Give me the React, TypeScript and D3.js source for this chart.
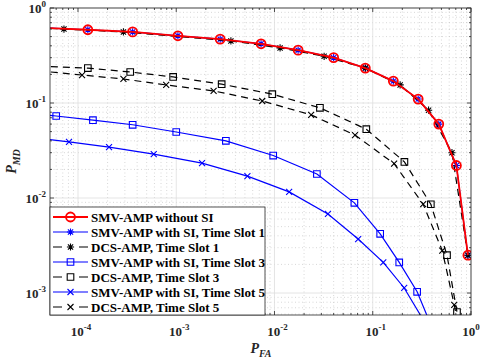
import React, { useEffect, useRef } from 'react';
import * as d3 from 'd3';

// P_FA / P_MD values
const noSiPfa = [4e-5, 1.26e-4, 3.6e-4, 1.04e-3, 2.8e-3, 7.3e-3, 0.0174, 0.04, 0.084, 0.162, 0.29, 0.47, 0.71, 0.93];
const noSiPmd = [0.62, 0.59, 0.56, 0.51, 0.47, 0.42, 0.36, 0.30, 0.233, 0.17, 0.11, 0.06, 0.022, 0.0025];

const si1Pfa = [4e-5, 1.26e-4, 3.6e-4, 1.04e-3, 2.8e-3, 7.3e-3, 0.0174, 0.04, 0.084, 0.162, 0.29, 0.47, 0.71, 0.93];
const si1Pmd = [0.62, 0.59, 0.56, 0.51, 0.47, 0.42, 0.36, 0.30, 0.233, 0.17, 0.11, 0.06, 0.022, 0.0025];

const dcs1Pfa = [3e-5, 7.2e-5, 2.9e-4, 3.6e-3, 0.0114, 0.032, 0.084, 0.19, 0.37, 0.64, 0.93];
const dcs1Pmd = [0.63, 0.60, 0.56, 0.45, 0.38, 0.31, 0.233, 0.155, 0.084, 0.030, 0.0025];

const si3Pfa = [4e-5, 6.0e-5, 1.42e-4, 3.6e-4, 1.0e-3, 3.2e-3, 9.7e-3, 0.027, 0.065, 0.119, 0.186, 0.283, 0.5];
const si3Pmd = [0.076, 0.073, 0.066, 0.059, 0.0495, 0.040, 0.028, 0.0179, 0.0089, 0.0042, 0.0021, 0.00103, 2.5e-4];

const dcs3Pfa = [4e-5, 1.26e-4, 3.4e-4, 9.3e-4, 2.9e-3, 9.5e-3, 0.029, 0.086, 0.21, 0.39, 0.57, 0.72];
const dcs3Pmd = [0.245, 0.233, 0.212, 0.188, 0.158, 0.124, 0.089, 0.053, 0.024, 0.0086, 0.0025, 6.3e-4];

const si5Pfa = [4e-5, 8.1e-5, 2.07e-4, 5.9e-4, 1.83e-3, 5.3e-3, 0.0141, 0.035, 0.071, 0.128, 0.209, 0.45];
const si5Pmd = [0.0425, 0.0389, 0.0344, 0.029, 0.0233, 0.017, 0.0116, 0.0068, 0.0037, 0.0021, 0.00113, 3e-4];

const dcs5Pfa = [4e-5, 1.1e-4, 2.9e-4, 7.9e-4, 2.4e-3, 7.5e-3, 0.0236, 0.066, 0.165, 0.326, 0.51, 0.675, 0.76];
const dcs5Pmd = [0.218, 0.197, 0.179, 0.155, 0.134, 0.105, 0.075, 0.046, 0.023, 0.0086, 0.0028, 7.5e-4, 4e-4];

const xTickExp = [-4, -3, -2, -1, 0];
const yTickExp = [-3, -2, -1, 0];

const legendLabels = [
  'SMV-AMP without SI',
  'SMV-AMP with SI, Time Slot 1',
  'DCS-AMP, Time Slot 1',
  'SMV-AMP with SI, Time Slot 3',
  'DCS-AMP, Time Slot 3',
  'SMV-AMP with SI, Time Slot 5',
  'DCS-AMP, Time Slot 5',
];

const FONT = '"Liberation Serif", "Times New Roman", serif';

const markerPath = (type, r) => {
  if (type === 'star') {
    const d = r * 0.72;
    return `M0,${-r}V${r}M${-r},0H${r}M${-d},${-d}L${d},${d}M${-d},${d}L${d},${-d}`;
  }
  if (type === 'x') return `M${-r},${-r}L${r},${r}M${-r},${r}L${r},${-r}`;
  if (type === 'square') return `M${-r},${-r}H${r}V${r}H${-r}Z`;
  return d3.symbol(d3.symbolCircle, Math.PI * r * r)();
};

export default function App() {
  const svgRef = useRef(null);
  const width = 480;
  const height = 360;

  useEffect(() => {
    const svg = d3.select(svgRef.current);
    svg.selectAll('*').remove();

    const left = 50, right = 471, top = 8, bottom = 315;
    const x = d3.scaleLog().domain([5.19e-5, 1]).range([left, right]);
    const y = d3.scaleLog().domain([5.87e-4, 1]).range([bottom, top]);

    svg.append('rect').attr('width', width).attr('height', height).attr('fill', '#fff');

    svg.append('defs').append('clipPath').attr('id', 'plot-clip')
      .append('rect').attr('x', left).attr('y', top)
      .attr('width', right - left).attr('height', bottom - top);

    // grid
    const grid = svg.append('g');
    const xMinor = [];
    for (let e = -5; e < 0; e++) for (let k = 2; k <= 9; k++) {
      const v = k * Math.pow(10, e);
      if (v > x.domain()[0] && v < 1) xMinor.push(v);
    }
    const yMinor = [];
    for (let e = -4; e < 0; e++) for (let k = 2; k <= 9; k++) {
      const v = k * Math.pow(10, e);
      if (v > y.domain()[0] && v < 1) yMinor.push(v);
    }
    grid.selectAll('.xm').data(xMinor).enter().append('line')
      .attr('x1', d => x(d)).attr('x2', d => x(d)).attr('y1', top).attr('y2', bottom)
      .attr('stroke', '#bdbdbd').attr('stroke-width', 0.6).attr('stroke-dasharray', '1,2.5');
    grid.selectAll('.ym').data(yMinor).enter().append('line')
      .attr('y1', d => y(d)).attr('y2', d => y(d)).attr('x1', left).attr('x2', right)
      .attr('stroke', '#bdbdbd').attr('stroke-width', 0.6).attr('stroke-dasharray', '1,2.5');
    grid.selectAll('.xM').data(xTickExp).enter().append('line')
      .attr('x1', d => x(Math.pow(10, d))).attr('x2', d => x(Math.pow(10, d)))
      .attr('y1', top).attr('y2', bottom)
      .attr('stroke', '#dedede').attr('stroke-width', 0.8);
    grid.selectAll('.yM').data(yTickExp).enter().append('line')
      .attr('y1', d => y(Math.pow(10, d))).attr('y2', d => y(Math.pow(10, d)))
      .attr('x1', left).attr('x2', right)
      .attr('stroke', '#dedede').attr('stroke-width', 0.8);

    const series = [
      { pfa: si1Pfa, pmd: si1Pmd, color: '#0000ff', dash: null, marker: 'star', w: 1.2 },
      { pfa: dcs1Pfa, pmd: dcs1Pmd, color: '#000', dash: '7,5', marker: 'star', w: 1.2 },
      { pfa: noSiPfa, pmd: noSiPmd, color: '#ff0000', dash: null, marker: 'circle', w: 1.8 },
      { pfa: si3Pfa, pmd: si3Pmd, color: '#0000ff', dash: null, marker: 'square', w: 1.2 },
      { pfa: dcs3Pfa, pmd: dcs3Pmd, color: '#000', dash: '7,5', marker: 'square', w: 1.2 },
      { pfa: si5Pfa, pmd: si5Pmd, color: '#0000ff', dash: null, marker: 'x', w: 1.2 },
      { pfa: dcs5Pfa, pmd: dcs5Pmd, color: '#000', dash: '7,5', marker: 'x', w: 1.2 },
    ];
    const mSize = { star: 3.6, x: 3, square: 3.3, circle: 4.5 };

    const plot = svg.append('g').attr('clip-path', 'url(#plot-clip)');
    const line = d3.line().x(d => x(d[0])).y(d => y(d[1]));
    series.forEach(s => {
      const pts = s.pfa.map((p, i) => [p, s.pmd[i]]);
      plot.append('path').attr('d', line(pts)).attr('fill', 'none')
        .attr('stroke', s.color).attr('stroke-width', s.w)
        .attr('stroke-dasharray', s.dash);
      plot.selectAll(null).data(pts).enter().append('path')
        .attr('transform', d => `translate(${x(d[0])},${y(d[1])})`)
        .attr('d', markerPath(s.marker, mSize[s.marker]))
        .attr('fill', 'none').attr('stroke', s.color)
        .attr('stroke-width', s.marker === 'circle' ? 1.8 : 1.1);
    });

    // axes box and ticks (inside, all four sides)
    const ax = svg.append('g').attr('stroke', '#262626').attr('stroke-width', 0.8);
    const xMaj = xTickExp.map(e => Math.pow(10, e));
    const yMaj = yTickExp.map(e => Math.pow(10, e));
    [[bottom, -1], [top, 1]].forEach(([y0, dir]) => {
      ax.selectAll(null).data(xMaj).enter().append('line')
        .attr('x1', d => x(d)).attr('x2', d => x(d)).attr('y1', y0).attr('y2', y0 + dir * 4);
      ax.selectAll(null).data(xMinor).enter().append('line')
        .attr('x1', d => x(d)).attr('x2', d => x(d)).attr('y1', y0).attr('y2', y0 + dir * 2);
    });
    [[left, 1], [right, -1]].forEach(([x0, dir]) => {
      ax.selectAll(null).data(yMaj).enter().append('line')
        .attr('y1', d => y(d)).attr('y2', d => y(d)).attr('x1', x0).attr('x2', x0 + dir * 4);
      ax.selectAll(null).data(yMinor).enter().append('line')
        .attr('y1', d => y(d)).attr('y2', d => y(d)).attr('x1', x0).attr('x2', x0 + dir * 2);
    });
    ax.append('rect').attr('x', left).attr('y', top)
      .attr('width', right - left).attr('height', bottom - top).attr('fill', 'none');

    // tick labels
    const xl = svg.selectAll('.xl').data(xTickExp).enter().append('text')
      .attr('x', d => x(Math.pow(10, d)) + (d === 0 ? 0 : 3)).attr('y', 336)
      .attr('text-anchor', 'middle').attr('font-family', FONT).attr('font-weight', 'bold')
      .attr('font-size', 13).attr('fill', '#262626');
    xl.append('tspan').text('10');
    xl.append('tspan').attr('dy', -6).attr('font-size', 9).text(d => `${d}`);

    const yl = svg.selectAll('.yl').data(yTickExp).enter().append('text')
      .attr('x', 46).attr('y', d => y(Math.pow(10, d)) + 5)
      .attr('text-anchor', 'end').attr('font-family', FONT).attr('font-weight', 'bold')
      .attr('font-size', 13).attr('fill', '#262626');
    yl.append('tspan').text('10');
    yl.append('tspan').attr('dy', -6).attr('font-size', 9).text(d => `${d}`);

    // axis labels
    const xLab = svg.append('text').attr('x', 261).attr('y', 353)
      .attr('text-anchor', 'middle').attr('font-family', FONT).attr('font-weight', 'bold')
      .attr('font-style', 'italic').attr('font-size', 14).attr('fill', '#262626');
    xLab.append('tspan').text('P');
    xLab.append('tspan').attr('dy', 4).attr('font-size', 10).text('FA');

    const yLab = svg.append('text').attr('transform', `translate(16,${(top + bottom) / 2}) rotate(-90)`)
      .attr('text-anchor', 'middle').attr('font-family', FONT).attr('font-weight', 'bold')
      .attr('font-style', 'italic').attr('font-size', 14).attr('fill', '#262626');
    yLab.append('tspan').text('P');
    yLab.append('tspan').attr('dy', 4).attr('font-size', 10).text('MD');

    // legend
    const lg = svg.append('g');
    lg.append('rect').attr('x', left).attr('y', 207).attr('width', 215).attr('height', bottom - 207)
      .attr('fill', '#fff').attr('stroke', '#262626').attr('stroke-width', 0.8);
    const legendStyle = [2, 0, 1, 3, 4, 5, 6].map(i => series[i]);
    legendLabels.forEach((lab, i) => {
      const s = legendStyle[i];
      const yy = 217 + i * 15;
      lg.append('line').attr('x1', 53).attr('x2', 88).attr('y1', yy).attr('y2', yy)
        .attr('stroke', s.color).attr('stroke-width', s.w)
        .attr('stroke-dasharray', s.dash ? '9,17' : null);
      lg.append('path').attr('transform', `translate(70.5,${yy})`)
        .attr('d', markerPath(s.marker, mSize[s.marker]))
        .attr('fill', 'none').attr('stroke', s.color)
        .attr('stroke-width', s.marker === 'circle' ? 1.8 : 1.1);
      lg.append('text').attr('x', 91).attr('y', yy + 4.5)
        .attr('font-family', FONT).attr('font-weight', 'bold').attr('font-size', 13)
        .attr('fill', '#000').text(lab);
    });
  }, []);

  return (
    <svg
      ref={svgRef}
      width={width}
      height={height}
      style={{ position: 'absolute', left: 0, top: 0, background: 'white' }}
    />
  );
}
